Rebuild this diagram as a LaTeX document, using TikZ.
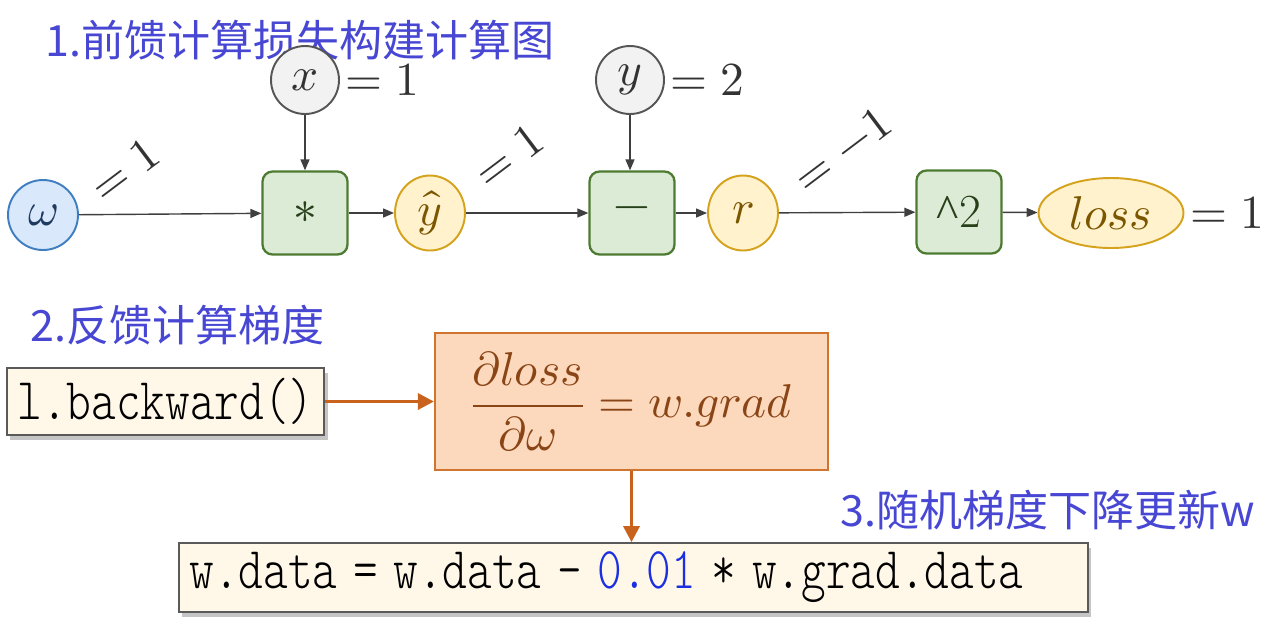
\documentclass[tikz,border=0pt]{standalone}
\usepackage{amsmath}
\usepackage{fontspec}
\usepackage{unicode-math}
\setmathfont{Latin Modern Math}
\usetikzlibrary{shapes.geometric, arrows.meta, positioning, calc, shadows}
\newfontfamily\cjk{Noto Sans CJK SC}
\newfontfamily\opfont{Liberation Serif}
\newfontfamily\codefont{Latin Modern Mono Light}
\definecolor{titleblue}{HTML}{4747D4}
\definecolor{edgegray}{HTML}{3F3F3F}
\definecolor{wfill}{HTML}{DAE8FC}
\definecolor{wline}{HTML}{3F7EC0}
\definecolor{wtext}{HTML}{1F3A5F}
\definecolor{infill}{HTML}{F2F2F2}
\definecolor{inline}{HTML}{555555}
\definecolor{opfill}{HTML}{DCEBD5}
\definecolor{opline}{HTML}{4E7B32}
\definecolor{optext}{HTML}{27401A}
\definecolor{midfill}{HTML}{FFF2CC}
\definecolor{midline}{HTML}{D4A21C}
\definecolor{midtext}{HTML}{7A5600}
\definecolor{gradfill}{HTML}{FCD8BC}
\definecolor{gradline}{HTML}{CF7530}
\definecolor{gradtext}{HTML}{8A4516}
\definecolor{codefill}{HTML}{FFF8E8}
\definecolor{codeline}{HTML}{5A5A5A}
\definecolor{stepcol}{HTML}{C8621C}
\definecolor{lrblue}{HTML}{1A2FE0}
\newcommand{\codetxt}[1]{\scalebox{1.07}[1.35]{#1}}

\tikzset{
  param/.style={circle, draw=wline, fill=wfill, line width=1.1pt, minimum size=1.4cm, inner sep=0pt, text=wtext},
  datavar/.style={circle, draw=inline, fill=infill, line width=1.1pt, minimum size=1.36cm, inner sep=0pt, text=black!80},
  midvar/.style={ellipse, draw=midline, fill=midfill, line width=1.1pt, minimum width=1.4cm, minimum height=1.5cm, inner sep=0pt, text=midtext},
  opbox/.style={rectangle, rounded corners=0.2cm, draw=opline, fill=opfill, line width=1.3pt, minimum width=1.7cm, minimum height=1.66cm, text=optext},
  valtext/.style={text=black!80, inner sep=1pt},
  flow/.style={draw=edgegray, line width=0.8pt, -{Triangle[length=2.2mm,width=1.8mm]}},
  stepflow/.style={draw=stepcol, line width=1.8pt, -{Triangle[length=3.2mm,width=3.2mm]}},
  codebox/.style={rectangle, draw=codeline, fill=codefill, line width=1pt, drop shadow={shadow xshift=2pt, shadow yshift=-3pt, fill=black!45}, font=\fontsize{25}{30}\selectfont\codefont, inner xsep=6pt, align=left},
  steptitle/.style={text=titleblue, font=\fontsize{24.5}{28}\selectfont\cjk, inner sep=0pt}
}

\begin{document}
\begin{tikzpicture}[x=0.02cm, y=-0.02cm, font=\fontsize{27}{31}\selectfont]
  \useasboundingbox (0,0) rectangle (1287,633);

  % 1. forward pass
  \node[steptitle, anchor=west] (t1) at (45,40) {1.前馈计算损失构建计算图};

  \node[param] (w) at (43,215) {$\omega$};
  \node[datavar] (x) at (305,80) {$x$};
  \node[opbox] (mul) at (305,213) {$*$};
  \node[midvar] (yhat) at (430,213) {$\hat{y}$};
  \node[datavar] (y) at (630,80) {$y$};
  \node[opbox] (sub) at (632,213) {$-$};
  \node[midvar] (r) at (743,213) {$r$};
  \node[opbox] (sq) at (959,212) {{\opfont\string^}2};
  \node[midvar, minimum width=2.9cm, minimum height=1.4cm] (loss) at (1111,213) {$loss$};

  % values
  \node[valtext, anchor=west] (xval) at ([xshift=2pt]x.east) {$=1$};
  \node[valtext, anchor=west] (yval) at ([xshift=2pt]y.east) {$=2$};
  \node[valtext, anchor=west] (lossval) at ([xshift=2pt]loss.east) {$=1$};
  \node[valtext, rotate=37] (wval) at (124,170) {$=1$};
  \node[valtext, rotate=37] (yhatval) at (508,156) {$=1$};
  \node[valtext, rotate=37] (rval) at (842,150) {$=-1$};

  % edges
  \draw[flow] (w) -- (mul);
  \draw[flow] (x) -- (mul);
  \draw[flow] (mul) -- (yhat);
  \draw[flow] (yhat) -- (sub);
  \draw[flow] (y) -- (sub.north -| y);
  \draw[flow] (sub) -- (r);
  \draw[flow] (r) -- (sq);
  \draw[flow] (sq) -- (loss);

  % 2. backward
  \node[steptitle, anchor=west] (t2) at (30,325) {2.反馈计算梯度};
  \node[codebox, minimum width=6.3cm, minimum height=1.34cm] (bw) at (165.5,401.5) {\codetxt{l.backward()}};
  \node[rectangle, draw=gradline, fill=gradfill, line width=1.3pt, minimum width=7.86cm, minimum height=2.74cm, text=gradtext, font=\fontsize{27}{32}\selectfont] (grad) at (631.5,401.5) {$\displaystyle\frac{\partial loss}{\partial\omega}=w.grad$};
  \draw[stepflow] (bw) -- (grad);

  % 3. update
  \node[steptitle, anchor=west] (t3) at (840,510) {3.随机梯度下降更新w};
  \node[codebox, text width=17.76cm, minimum height=1.38cm, anchor=west] (upd) at (178,577.5) {\codetxt{w.data = w.data - {\color{lrblue}0.01} * w.grad.data}};
  \draw[stepflow] (grad.south) -- (grad.south |- upd.north);
\end{tikzpicture}
\end{document}
